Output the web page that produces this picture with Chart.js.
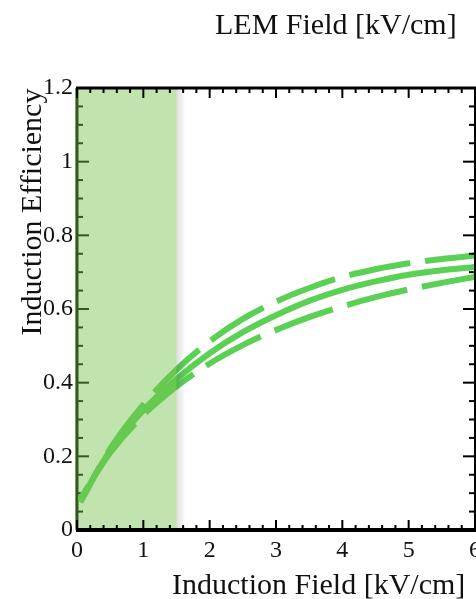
<!DOCTYPE html>
<html>
<head>
<meta charset="utf-8">
<script src="https://cdn.jsdelivr.net/npm/chart.js@4/dist/chart.umd.min.js"></script>
<style>
  html, body { margin: 0; padding: 0; background: #fff; }
  #wrap { width: 476px; height: 599px; position: relative; }
</style>
</head>
<body>
<div id="wrap"><canvas id="myChart"></canvas></div>
<script>
// values
var fieldValues = [0.05, 0.5, 1, 1.5, 2, 2.5, 3, 3.5, 4, 4.5, 5, 5.5, 6];
var centerEff = [0.08, 0.215, 0.325, 0.41, 0.48, 0.537, 0.583, 0.622, 0.652, 0.675, 0.693, 0.705, 0.714];
var upperEff  = [0.075, 0.22, 0.34, 0.435, 0.512, 0.573, 0.62, 0.657, 0.687, 0.708, 0.724, 0.736, 0.745];
var lowerEff  = [0.085, 0.21, 0.312, 0.39, 0.452, 0.502, 0.543, 0.578, 0.607, 0.632, 0.653, 0.671, 0.687];
var bandRange = [0, 1.5];
var xTicks = [0, 1, 2, 3, 4, 5, 6];
var yTicks = [0, 0.2, 0.4, 0.6, 0.8, 1, 1.2];

var serif = '"Liberation Serif", "Times New Roman", serif';
var green = 'rgb(90, 208, 85)';

function pts(ys) {
    return fieldValues.map(function (x, i) { return { x: x, y: ys[i] }; });
}

function tickMarks(ctx, chart, side) {
    var a = chart.chartArea;
    var xs = chart.scales.x, ys = chart.scales.y;
    var i, p, len;
    ctx.lineWidth = 2;
    if (side === 'bottom' || side === 'top') {
        for (i = 0; i <= 30; i++) {
            p = xs.getPixelForValue(i * 0.2);
            len = (i % 5 === 0) ? 10 : 5;
            ctx.beginPath();
            if (side === 'bottom') { ctx.moveTo(p, a.bottom); ctx.lineTo(p, a.bottom - len); }
            else { ctx.moveTo(p, a.top); ctx.lineTo(p, a.top + len); }
            ctx.stroke();
        }
    } else {
        for (i = 0; i <= 24; i++) {
            p = ys.getPixelForValue(i * 0.05);
            len = (i % 4 === 0) ? 12 : 6;
            ctx.beginPath();
            if (side === 'left') { ctx.moveTo(a.left, p); ctx.lineTo(a.left + len, p); }
            else { ctx.moveTo(a.right, p); ctx.lineTo(a.right - len, p); }
            ctx.stroke();
        }
    }
}

var framePlugin = {
    id: 'frame',
    beforeDatasetsDraw: function (chart) {
        var ctx = chart.ctx, a = chart.chartArea;
        ctx.save();
        ctx.strokeStyle = '#000';
        tickMarks(ctx, chart, 'left');
        ctx.lineWidth = 3;
        ctx.beginPath();
        ctx.moveTo(a.left, a.top);
        ctx.lineTo(a.left, a.bottom);
        ctx.stroke();
        ctx.restore();
    },
    afterDatasetsDraw: function (chart) {
        var ctx = chart.ctx, a = chart.chartArea;
        var xs = chart.scales.x;
        var x0 = xs.getPixelForValue(bandRange[0]);
        var x1 = xs.getPixelForValue(bandRange[1]);

        // shaded band, see-through so the lines and left axis show tinted
        ctx.save();
        ctx.fillStyle = 'rgba(117, 193, 75, 0.45)';
        ctx.fillRect(x0 - 2, a.top, x1 - x0 + 2, a.bottom - a.top);
        // soft edge on the right
        var g = ctx.createLinearGradient(x1, 0, x1 + 9, 0);
        g.addColorStop(0, 'rgba(0,0,0,0.13)');
        g.addColorStop(1, 'rgba(0,0,0,0)');
        ctx.fillStyle = g;
        ctx.fillRect(x1, a.top, 9, a.bottom - a.top);
        ctx.restore();

        // remaining axes
        ctx.save();
        ctx.strokeStyle = '#000';
        tickMarks(ctx, chart, 'bottom');
        tickMarks(ctx, chart, 'top');
        tickMarks(ctx, chart, 'right');
        ctx.lineWidth = 4;
        ctx.beginPath();
        ctx.moveTo(a.left - 1, a.bottom);
        ctx.lineTo(a.right + 2, a.bottom);
        ctx.stroke();
        ctx.lineWidth = 3;
        ctx.beginPath();
        ctx.moveTo(a.left - 1, a.top);
        ctx.lineTo(a.right + 2, a.top);
        ctx.stroke();
        ctx.lineWidth = 2;
        ctx.beginPath();
        ctx.moveTo(a.right, a.top);
        ctx.lineTo(a.right, a.bottom);
        ctx.stroke();
        ctx.restore();
    },
    afterDraw: function (chart) {
        var ctx = chart.ctx;
        ctx.save();
        ctx.fillStyle = '#111';
        ctx.font = '30px ' + serif;
        ctx.textBaseline = 'alphabetic';
        ctx.textAlign = 'left';
        ctx.fillText('LEM Field [kV/cm]', 215, 34);
        ctx.fillText('Induction Field [kV/cm]', 172, 594);
        ctx.translate(41, 212);
        ctx.rotate(-Math.PI / 2);
        ctx.textAlign = 'center';
        ctx.fillText('Induction Efficiency', 0, 0);
        ctx.restore();
    }
};

var lineBase = {
    borderColor: green,
    borderWidth: 6,
    pointRadius: 0,
    fill: false,
    cubicInterpolationMode: 'monotone'
};

var myChart = new Chart(
    document.getElementById('myChart'),
    {
        type: 'line',
        data: {
            datasets: [
                Object.assign({ label: 'upper', data: pts(upperEff), borderDash: [62, 15], borderDashOffset: 21 }, lineBase),
                Object.assign({ label: 'center', data: pts(centerEff) }, lineBase),
                Object.assign({ label: 'lower', data: pts(lowerEff), borderDash: [62, 15], borderDashOffset: 46 }, lineBase)
            ]
        },
        options: {
            responsive: true,
            maintainAspectRatio: false,
            animation: false,
            layout: { padding: { top: 88, right: 1, bottom: 0, left: 0 } },
            plugins: {
                legend: { display: false },
                tooltip: { enabled: false }
            },
            scales: {
                x: {
                    type: 'linear',
                    min: 0,
                    max: 6,
                    grid: { display: false, drawTicks: false },
                    border: { display: false },
                    afterBuildTicks: function (scale) {
                        scale.ticks = xTicks.map(function (v) { return { value: v }; });
                    },
                    afterFit: function (scale) {
                        scale.height = 69;
                        scale.paddingLeft = 0;
                        scale.paddingRight = 0;
                    },
                    ticks: {
                        padding: 6,
                        maxRotation: 0,
                        color: '#111',
                        font: { family: serif, size: 24 }
                    }
                },
                y: {
                    min: 0,
                    max: 1.2,
                    grid: { display: false, drawTicks: false },
                    border: { display: false },
                    afterBuildTicks: function (scale) {
                        scale.ticks = yTicks.map(function (v) { return { value: v }; });
                    },
                    afterFit: function (scale) {
                        scale.width = 77;
                        scale.paddingTop = 0;
                        scale.paddingBottom = 0;
                    },
                    ticks: {
                        padding: 4,
                        color: '#111',
                        font: { family: serif, size: 24 },
                        callback: function (v) { return String(Math.round(v * 10) / 10); }
                    }
                }
            }
        },
        plugins: [framePlugin]
    }
);
</script>
</body>
</html>
